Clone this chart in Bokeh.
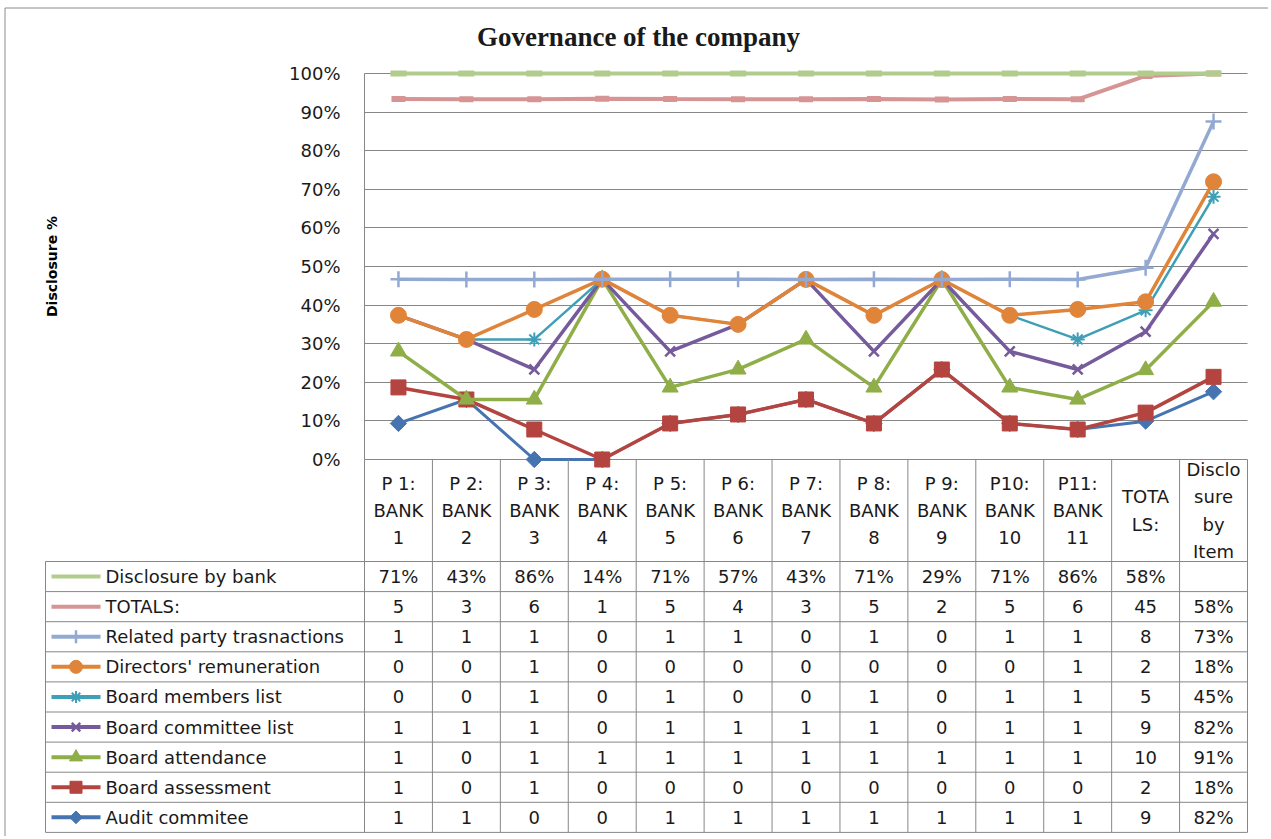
import numpy as np
from bokeh.plotting import figure
from bokeh.models import (Range1d, FixedTicker, NumeralTickFormatter, LinearAxis, Grid)
from bokeh.embed import file_html
from bokeh.resources import INLINE
from bokeh.core.properties import value

# ---------------- data (as shown in the chart's data table) ----------------
categories = ["P 1:\nBANK\n1", "P 2:\nBANK\n2", "P 3:\nBANK\n3", "P 4:\nBANK\n4",
              "P 5:\nBANK\n5", "P 6:\nBANK\n6", "P 7:\nBANK\n7", "P 8:\nBANK\n8",
              "P 9:\nBANK\n9", "P10:\nBANK\n10", "P11:\nBANK\n11", "TOTA\nLS:",
              "Disclo\nsure\nby\nItem"]

disclosure_by_bank     = [0.71, 0.43, 0.86, 0.14, 0.71, 0.57, 0.43, 0.71, 0.29, 0.71, 0.86, 0.58, None]
totals                 = [5, 3, 6, 1, 5, 4, 3, 5, 2, 5, 6, 45, 0.58]
related_party          = [1, 1, 1, 0, 1, 1, 0, 1, 0, 1, 1, 8, 0.73]
directors_remuneration = [0, 0, 1, 0, 0, 0, 0, 0, 0, 0, 1, 2, 0.18]
board_members          = [0, 0, 1, 0, 1, 0, 0, 1, 0, 1, 1, 5, 0.45]
board_committee        = [1, 1, 1, 0, 1, 1, 1, 1, 0, 1, 1, 9, 0.82]
board_attendance       = [1, 0, 1, 1, 1, 1, 1, 1, 1, 1, 1, 10, 0.91]
board_assessment       = [1, 0, 1, 0, 0, 0, 0, 0, 0, 0, 0, 2, 0.18]
audit_committee        = [1, 1, 0, 0, 1, 1, 1, 1, 1, 1, 1, 9, 0.82]

series_names = ["Audit commitee", "Board assessment", "Board attendance",
                "Board committee list", "Board members list", "Directors' remuneration",
                "Related party trasnactions", "TOTALS:", "Disclosure by bank"]
series_values = [audit_committee, board_assessment, board_attendance, board_committee,
                 board_members, directors_remuneration, related_party, totals,
                 disclosure_by_bank]

title_text = "Governance of the company"
y_label = "Disclosure %"
y_ticks = [i / 10 for i in range(11)]

# ---------------- styles ----------------
styles = [
    dict(color="#4674B0", marker="square", size=11.5, angle=np.pi / 4, lw=3, mlw=1, lsize=9),
    dict(color="#B4443F", marker="square", size=15, angle=0, lw=3.5, mlw=1, lsize=12),
    dict(color="#8FAE48", marker="triangle", size=16, angle=0, lw=3.5, mlw=1, lsize=13),
    dict(color="#755A9C", marker="x", size=14, angle=0, lw=3.5, mlw=2.5, lsize=12),
    dict(color="#3E9FB6", marker="asterisk", size=14, angle=0, lw=2.5, mlw=2, lsize=12),
    dict(color="#E0843A", marker="circle", size=16, angle=0, lw=3.5, mlw=1, lsize=13),
    dict(color="#93A9D2", marker="cross", size=16, angle=0, lw=3.5, mlw=2.5, lsize=13),
    dict(color="#D69494", marker="dash", size=14, angle=0, lw=4, mlw=6, lsize=0),
    dict(color="#B2CC8E", marker="dash", size=16, angle=0, lw=4, mlw=6, lsize=0),
]

FONT = "DejaVu Sans"
GRID = "#878787"
TXT = "#1a1a1a"

# 100% stacked line: cumulative share of each column
vals = np.array([[0.0 if v is None else float(v) for v in s] for s in series_values])
cum = np.cumsum(vals, axis=0) / vals.sum(axis=0)
ncol = len(categories)
xc = [i + 0.5 for i in range(ncol)]

# ---------------- geometry (pixel layout -> data units) ----------------
PLOT_L, PLOT_R, PLOT_T, PLOT_B = 364, 1247, 73, 459
COL_PX = (PLOT_R - PLOT_L) / ncol
Y_PX = PLOT_B - PLOT_T
def ux(px):
    return (px - PLOT_L) / COL_PX
def uy(py):
    return (PLOT_B - py) / Y_PX

W, H = 1268, 836
p = figure(width=W, height=H,
           x_range=Range1d(ux(0), ux(W)), y_range=Range1d(uy(H), uy(0)),
           x_axis_type=None, y_axis_type=None,
           output_backend="svg", toolbar_location=None,
           min_border_left=0, min_border_top=0, min_border_right=0, min_border_bottom=0)
p.outline_line_color = None

# chart border (top and left edges visible)
p.segment(x0=[ux(4.5), ux(4.5)], y0=[uy(7.5), uy(7.5)], x1=[ux(W), ux(4.5)], y1=[uy(7.5), uy(H)],
          line_color="#8c8c8c", line_width=1)

yaxis = LinearAxis(fixed_location=0, bounds=(0, 1),
                   ticker=FixedTicker(ticks=y_ticks),
                   formatter=NumeralTickFormatter(format="0%"))
yaxis.major_label_text_font = FONT
yaxis.major_label_text_font_size = "18px"
yaxis.major_label_text_color = TXT
yaxis.major_label_standoff = 24
yaxis.major_tick_out = 0
yaxis.major_tick_in = 0
yaxis.major_tick_line_color = None
yaxis.minor_tick_line_color = None
yaxis.axis_line_color = GRID
yaxis.axis_label = y_label
yaxis.axis_label_text_font = FONT
yaxis.axis_label_text_font_style = "bold"
yaxis.axis_label_text_font_size = "14px"
yaxis.axis_label_text_color = "#000000"
yaxis.axis_label_standoff = 226
p.add_layout(yaxis, "left")

if "cross_bounds" in Grid.properties():
    p.add_layout(Grid(dimension=1, ticker=yaxis.ticker, cross_bounds=(0, ncol),
                      grid_line_color=GRID, grid_line_width=1))
else:
    p.segment(x0=[0] * len(y_ticks), y0=y_ticks, x1=[ncol] * len(y_ticks), y1=y_ticks,
              line_color=GRID, line_width=1)

for k, st in enumerate(styles):
    p.line(x=xc, y=cum[k], line_color=st["color"], line_width=st["lw"])
    p.scatter(x=xc, y=cum[k], marker=st["marker"], size=st["size"],
              angle=st["angle"], fill_color=st["color"], line_color=st["color"],
              line_width=st["mlw"])

p.text(x=[ux(638)], y=[uy(36)], text=[title_text],
       text_font=value("Liberation Serif"), text_font_style="bold",
       text_font_size="27px", text_color="#1a1a1a",
       text_align="center", text_baseline="middle")

# ---------------- data table ----------------
ROW = 30.1 / Y_PX
header_h = 102 / Y_PX
n_rows = len(series_values)
x_left = ux(45)
bottom = -(header_h + n_rows * ROW)

hy = [-(header_h + k * ROW) for k in range(n_rows + 1)]
p.segment(x0=[x_left] * len(hy), y0=hy, x1=[ncol] * len(hy), y1=hy,
          line_color=GRID, line_width=1)
vx = list(range(ncol + 1))
p.segment(x0=vx, y0=[0] * len(vx), x1=vx, y1=[bottom] * len(vx),
          line_color=GRID, line_width=1)
p.segment(x0=[x_left], y0=[-header_h], x1=[x_left], y1=[bottom],
          line_color=GRID, line_width=1)

p.text(x=xc, y=[-header_h / 2] * ncol, text=categories,
       text_font=value(FONT), text_font_size="18px", text_color=TXT,
       text_align="center", text_baseline="middle", text_line_height=1.3)

def fmt(k, v, last):
    if v is None:
        return ""
    if k == len(series_values) - 1 or last:
        return f"{round(v * 100)}%"
    return str(int(v))

for r, k in enumerate(range(n_rows - 1, -1, -1)):
    yc = -(header_h + (r + 0.5) * ROW)
    row = series_values[k]
    texts = [fmt(k, v, c == ncol - 1) for c, v in enumerate(row)]
    p.text(x=xc, y=[yc] * ncol, text=texts,
           text_font=value(FONT), text_font_size="18px", text_color=TXT,
           text_align="center", text_baseline="middle")
    st = styles[k]
    p.segment(x0=[ux(51)], y0=[yc], x1=[ux(100)], y1=[yc],
              line_color=st["color"], line_width=4)
    if st["lsize"] > 0:
        p.scatter(x=[ux(75.5)], y=[yc], marker=st["marker"], size=st["lsize"],
                  angle=st["angle"], fill_color=st["color"], line_color=st["color"],
                  line_width=st["mlw"])
    p.text(x=[ux(105)], y=[yc], text=[series_names[k]],
           text_font=value(FONT), text_font_size="18px", text_color=TXT,
           text_align="left", text_baseline="middle")

open("out.html", "w").write(file_html(p, INLINE))
